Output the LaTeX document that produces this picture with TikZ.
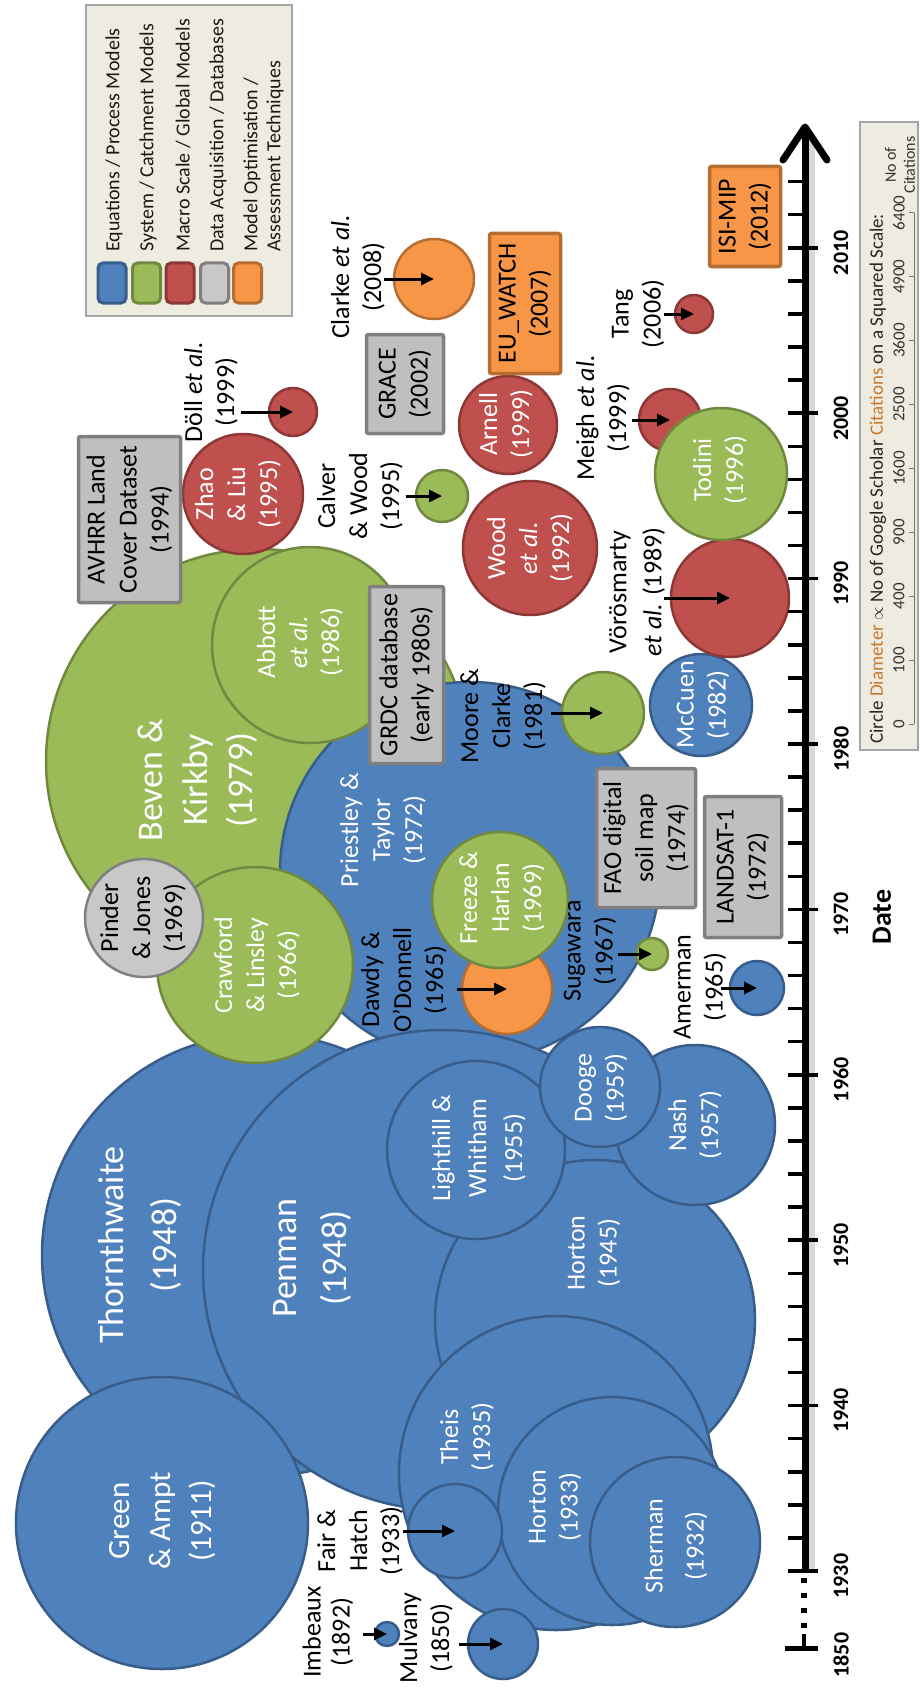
\documentclass[tikz,border=0pt]{standalone}
\usepackage{fontspec}
\setmainfont{Carlito}
\usetikzlibrary{arrows.meta}
\definecolor{bF}{HTML}{4F81BD}\definecolor{bL}{HTML}{385D8A}
\definecolor{gF}{HTML}{9BBB59}\definecolor{gL}{HTML}{71893F}
\definecolor{rF}{HTML}{C0504D}\definecolor{rL}{HTML}{8C3836}
\definecolor{yF}{HTML}{C8C8C8}\definecolor{yL}{HTML}{808080}
\definecolor{oF}{HTML}{F79646}\definecolor{oL}{HTML}{B66D31}
\definecolor{boxF}{HTML}{BFBFBF}
\definecolor{legF}{HTML}{EEECE1}\definecolor{legL}{HTML}{A6A6A6}
\definecolor{txtO}{HTML}{C8792E}
\begin{document}
\begin{tikzpicture}[x=1pt,y=-1pt,
  bc/.style={circle, inner sep=0pt, line width=2.5pt, fill=bF, draw=bL, minimum size=#1},
  gc/.style={circle, inner sep=0pt, line width=2.5pt, fill=gF, draw=gL, minimum size=#1},
  rc/.style={circle, inner sep=0pt, line width=2.5pt, fill=rF, draw=rL, minimum size=#1},
  yc/.style={circle, inner sep=0pt, line width=2.5pt, fill=yF, draw=yL, minimum size=#1},
  oc/.style={circle, inner sep=0pt, line width=2.5pt, fill=oF, draw=oL, minimum size=#1},
  lbl/.style={rotate=90, align=center, inner sep=0pt, font=\fontsize{26}{32}\selectfont},
  wl/.style={lbl, text=white},
  bl/.style={lbl, text=black},
  gbox/.style={rotate=90, align=center, inner sep=0pt, fill=boxF, draw=yL, line width=3.5pt, rounded corners=2pt, font=\fontsize{26}{32}\selectfont},
  obox/.style={gbox, fill=oF, draw=oL},
  arr/.style={line width=3pt, -{Triangle[length=13pt,width=12pt]}},
  tickmark/.style={line width=3.5pt},
  yrlbl/.style={rotate=90, font=\bfseries\fontsize{22}{26}\selectfont, inner sep=0pt},
  legtxt/.style={rotate=90, anchor=west, inner sep=0pt, font=\fontsize{20}{24}\selectfont, text=black!90},
  sw/.style={rounded corners=5pt, line width=3pt, minimum width=28pt, minimum height=40pt, inner sep=0pt}
]
\useasboundingbox (0,0) rectangle (920,1688);
\fill[white] (0,0) rectangle (920,1688);

% ---------- circles (back to front) ----------
\node[gc=424pt] (beven) at (258,761) {};
\node[bc=380pt] (priest) at (470,872) {};
\node[bc=442pt] (thorn) at (263,1255) {};
\node[bc=480pt] (penman) at (443,1270) {};
\node[bc=320pt] (horton45) at (595,1320) {};
\node[bc=292pt] (gampt) at (162,1523) {};
\node[bc=314pt] (theis) at (556,1473) {};
\node[bc=228pt] (horton33) at (612,1511) {};
\node[bc=170pt] (sherman) at (675,1542) {};
\node[bc=94pt] (fairhatch) at (455,1531) {};
\node[bc=70pt] (mulvany) at (503,1644) {};
\node[bc=24pt] (imbeaux) at (387,1634) {};
\node[bc=160pt] (nash) at (695,1125) {};
\node[bc=178pt] (lighthill) at (476,1150) {};
\node[bc=120pt] (dooge) at (600,1087) {};
\node[gc=196pt] (abbott) at (310,645) {};
\node[gc=196pt] (crawford) at (255,965) {};
\node[yc=118pt] (pinder) at (144,918) {};
\node[oc=90pt] (dawdy) at (507,989) {};
\node[gc=136pt] (freeze) at (500,900) {};
\node[gc=32pt] (sugawara) at (652,954) {};
\node[bc=54pt] (amerman) at (757,988) {};
\node[gc=82pt] (moore) at (603,713) {};
\node[bc=102pt] (mccuen) at (701,705) {};
\node[rc=118pt] (voros) at (730,598) {};
\node[rc=62pt] (meigh) at (670,420) {};
\node[gc=132pt] (todini) at (721,474) {};
\node[rc=38pt] (tang) at (694,314) {};
\node[rc=120pt] (zhao) at (243,494) {};
\node[rc=48pt] (doll) at (293,412) {};
\node[gc=52pt] (calver) at (442,496) {};
\node[rc=134pt] (wood) at (530,548) {};
\node[rc=98pt] (arnell) at (508,425) {};
\node[oc=80pt] (clarke) at (434,279) {};

% ---------- texts inside circles ----------
\node[wl, font=\fontsize{36}{53}\selectfont] (t-thorn) at (140,1245) {Thornthwaite\\(1948)};
\node[wl, font=\fontsize{36}{50}\selectfont] (t-penman) at (312,1258) {Penman\\(1948)};
\node[wl, font=\fontsize{36}{45}\selectfont] (t-beven) at (198,780) {Beven \&\\Kirkby\\(1979)};
\node[wl, font=\fontsize{31}{41}\selectfont] (t-gampt) at (163,1521) {Green\\\& Ampt\\(1911)};
\node[wl] (t-theis) at (467,1437) {Theis\\(1935)};
\node[wl] (t-horton33) at (555,1507) {Horton\\(1933)};
\node[wl, font=\fontsize{26}{41}\selectfont] (t-sherman) at (676,1546) {Sherman\\(1932)};
\node[wl] (t-horton45) at (594,1253) {Horton\\(1945)};
\node[wl, font=\fontsize{26}{36}\selectfont] (t-lighthill) at (479,1148) {Lighthill \&\\Whitham\\(1955)};
\node[wl] (t-dooge) at (601,1088) {Dooge\\(1959)};
\node[wl] (t-nash) at (695,1125) {Nash\\(1957)};
\node[wl] (t-priest) at (383,830) {Priestley \&\\Taylor\\(1972)};
\node[wl] (t-freeze) at (502,898) {Freeze \&\\Harlan\\(1969)};
\node[wl] (t-crawford) at (257,965) {Crawford\\\& Linsley\\(1966)};
\node[bl] (t-pinder) at (143,918) {Pinder\\\& Jones\\(1969)};
\node[wl] (t-abbott) at (300,642) {Abbott\\\textit{et al.}\\(1986)};
\node[wl] (t-zhao) at (238,494) {Zhao\\\& Liu\\(1995)};
\node[wl] (t-wood) at (530,548) {Wood\\\textit{et al.}\\(1992)};
\node[wl] (t-arnell) at (506,424) {Arnell\\(1999)};
\node[wl] (t-mccuen) at (703,705) {McCuen\\(1982)};
\node[wl] (t-todini) at (720,470) {Todini\\(1996)};

% ---------- outside labels ----------
\node[bl, font=\fontsize{26}{29}\selectfont] (t-imbeaux) at (328,1632) {Imbeaux\\(1892)};
\node[bl] (t-fairhatch) at (360,1541) {Fair \&\\Hatch\\(1933)};
\node[bl] (t-mulvany) at (426,1638) {Mulvany\\(1850)};
\node[bl] (t-dawdy) at (404,980) {Dawdy \&\\O’Donnell\\(1965)};
\node[bl] (t-sugawara) at (590,951) {Sugawara\\(1967)};
\node[bl] (t-amerman) at (700,987) {Amerman\\(1965)};
\node[bl] (t-moore) at (503,716) {Moore \&\\Clarke\\(1981)};
\node[bl, font=\fontsize{26}{35}\selectfont] (t-voros) at (637,592) {Vörösmarty\\\textit{et al.} (1989)};
\node[bl] (t-meigh) at (603,418) {Meigh \textit{et al.}\\(1999)};
\node[bl] (t-tang) at (638,314) {Tang\\(2006)};
\node[bl] (t-calver) at (360,496) {Calver\\\& Wood\\(1995)};
\node[bl] (t-doll) at (211,392) {Döll \textit{et al.}\\(1999)};
\node[bl] (t-clarke) at (358,277) {Clarke \textit{et al.}\\(2008)};

% ---------- arrows ----------
\draw[arr] ([xshift=-52pt]doll.center) -- (doll.center);
\draw[arr] ([xshift=-50pt]clarke.center) -- (clarke.center);
\draw[arr] ([xshift=-30pt]tang.center) -- (tang.center);
\draw[arr] ([xshift=-38pt]meigh.center) -- (meigh.center);
\draw[arr] ([xshift=-66pt]voros.center) -- (voros.center);
\draw[arr] ([xshift=-52pt]moore.center) -- (moore.center);
\draw[arr] ([xshift=-36pt]calver.center) -- (calver.center);
\draw[arr] ([xshift=-34pt]sugawara.center) -- (sugawara.center);
\draw[arr] ([xshift=-36pt]amerman.center) -- (amerman.center);
\draw[arr] ([xshift=-50pt]dawdy.center) -- (dawdy.center);
\draw[arr] ([xshift=-52pt]fairhatch.center) -- (fairhatch.center);
\draw[arr] ([xshift=-24pt]imbeaux.center) -- (imbeaux.center);
\draw[arr] ([xshift=-44pt]mulvany.center) -- (mulvany.center);

% ---------- boxes ----------
\node[gbox, minimum width=166pt, minimum height=102pt] (avhrr) at (129.5,519.5) {AVHRR Land\\Cover Dataset\\(1994)};
\node[gbox, minimum width=99pt, minimum height=77pt] (grace) at (405,384) {GRACE\\(2002)};
\node[gbox, minimum width=177pt, minimum height=74pt] (grdc) at (406.5,675) {GRDC database\\(early 1980s)};
\node[gbox, minimum width=139pt, minimum height=99pt] (fao) at (646,838) {FAO digital\\soil map\\(1974)};
\node[gbox, minimum width=141pt, minimum height=77pt] (landsat) at (743,867) {LANDSAT-1\\(1972)};
\node[obox, minimum width=140pt, minimum height=71pt] (euwatch) at (525,303.5) {EU\_WATCH\\(2007)};
\node[obox, minimum width=100pt, minimum height=71pt] (isimip) at (745,216.5) {ISI-MIP\\(2012)};

% ---------- legend ----------
\node[draw=legL, fill=legF, line width=1.5pt, minimum width=206pt, minimum height=311pt, inner sep=0pt] (legend) at (189,160.5) {};
\node[sw, fill=bF, draw=bL] (sw1) at (112,283) {};
\node[sw, fill=gF, draw=gL] (sw2) at (146.5,283) {};
\node[sw, fill=rF, draw=rL] (sw3) at (180,283) {};
\node[sw, fill=yF, draw=yL] (sw4) at (214.5,283) {};
\node[sw, fill=oF, draw=oL] (sw5) at (247.5,283) {};
\node[legtxt] (lg1) at (114,252) {Equations / Process Models};
\node[legtxt] (lg2) at (148,252) {System / Catchment Models};
\node[legtxt] (lg3) at (183,252) {Macro Scale / Global Models};
\node[legtxt] (lg4) at (218,252) {Data Acquisition / Databases};
\node[legtxt] (lg5) at (252,252) {Model Optimisation /};
\node[legtxt] (lg6) at (275,252) {Assessment Techniques};

% ---------- scale box ----------
\node[draw=legL, fill=legF, line width=1.5pt, minimum width=58pt, minimum height=628pt, inner sep=0pt] (scalebox) at (889,436) {};
\node[rotate=90, anchor=west, inner sep=0pt, font=\fontsize{19}{23}\selectfont, text=black!85] (scaletxt) at (878,744)
  {Circle {\color{txtO}Diameter} $\propto$ No of Google Scholar {\color{txtO}Citations} on a Squared Scale:};
\foreach \v [count=\k from 0] in {0,100,400,900,1600,2500,3600,4900,6400}{
  \node[rotate=90, inner sep=0pt, font=\fontsize{17}{20}\selectfont, text=black!80] (sv\k) at (899,{724-63.9*\k}) {\v};
  \draw[black!55, line width=1pt] (909,{724-63.9*\k}) -- (914,{724-63.9*\k});
}
\draw[black!55, line width=1pt] (914,213) -- (914,724);
\node[rotate=90, align=center, inner sep=0pt, font=\fontsize{16}{19}\selectfont, text=black!80] (nocit) at (900,165) {No of\\Citations};

% ---------- axis ----------
\coordinate (ax0) at (805,1571);
\coordinate (axtop) at (805,127);
\coordinate (sh0) at (810,1571);
\coordinate (shtop) at (810,140);
\draw[black!30, opacity=0.5, line width=9pt] (sh0) -- (shtop);
\draw[line width=7pt] (ax0) -- (axtop);
\draw[line width=7pt, line cap=round, line join=round] (783,160) -- (axtop) -- (827,160);
\foreach \i in {0,...,42}{
  \pgfmathtruncatemacro\m{mod(\i,5)}
  \ifnum\m=0
    \draw[tickmark] (788,{1571-33.08*\i}) -- (818,{1571-33.08*\i});
  \else
    \draw[tickmark] (788,{1571-33.08*\i}) -- (805,{1571-33.08*\i});
  \fi
}
\foreach \yr [count=\k from 0] in {1930,1940,1950,1960,1970,1980,1990,2000,2010}{
  \node[yrlbl] (yl\yr) at (841,{1576-165.4*\k}) {\yr};
}
\draw[line width=6pt, dash pattern=on 5pt off 10pt] (804,1578) -- (804,1631);
\draw[line width=4pt] (804,1634) -- (804,1650);
\draw[line width=5pt] (785,1648) -- (818,1648);
\node[yrlbl] (yl1850) at (841,1655) {1850};
\node[rotate=90, inner sep=0pt, font=\bfseries\fontsize{28}{34}\selectfont] (date) at (882,917) {Date};
\end{tikzpicture}
\end{document}
